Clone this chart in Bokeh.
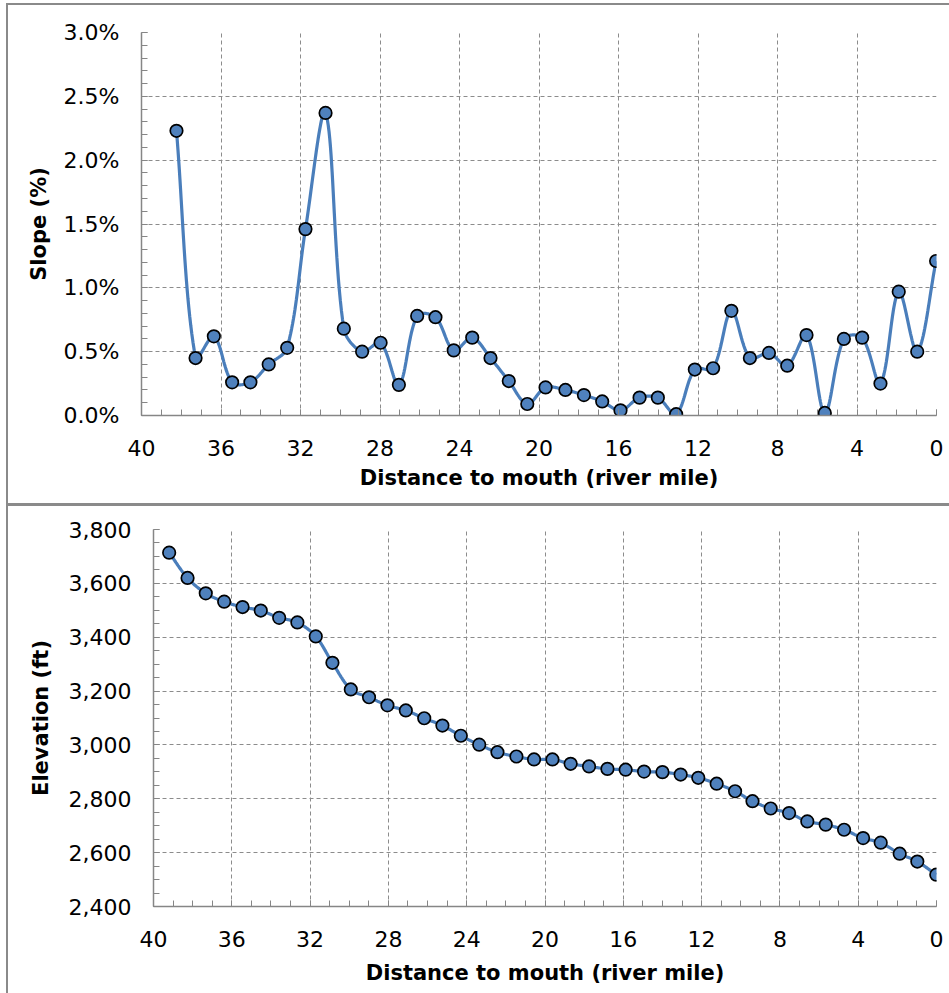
import numpy as np
from bokeh.plotting import figure
from bokeh.models import Range1d, FixedTicker, NumeralTickFormatter
from bokeh.embed import file_html
from bokeh.resources import INLINE

# ---------------- data ----------------
slope_miles = [38.24, 37.28, 36.36, 35.44, 34.52, 33.60, 32.67, 31.75, 30.74, 29.82,
               28.90, 27.97, 27.05, 26.13, 25.21, 24.29, 23.36, 22.44, 21.52, 20.59,
               19.67, 18.67, 17.74, 16.82, 15.90, 14.94, 14.02, 13.10, 12.16, 11.24,
               10.32, 9.39, 8.43, 7.51, 6.54, 5.62, 4.66, 3.74, 2.82, 1.90,
               0.97, 0.02]
slope_pct = [2.23, 0.45, 0.62, 0.26, 0.26, 0.40, 0.53, 1.46, 2.37, 0.68,
             0.50, 0.57, 0.24, 0.78, 0.77, 0.51, 0.61, 0.45, 0.27, 0.09,
             0.22, 0.20, 0.16, 0.11, 0.04, 0.14, 0.14, 0.01, 0.36, 0.37,
             0.82, 0.45, 0.49, 0.39, 0.63, 0.02, 0.60, 0.61, 0.25, 0.97,
             0.50, 1.21]

elev_miles = [39.20, 38.26, 37.33, 36.39, 35.45, 34.52, 33.58, 32.65, 31.71, 30.86,
              29.92, 28.99, 28.05, 27.11, 26.17, 25.24, 24.30, 23.36, 22.43, 21.46,
              20.56, 19.62, 18.69, 17.75, 16.81, 15.88, 14.94, 14.00, 13.07, 12.17,
              11.23, 10.29, 9.40, 8.47, 7.53, 6.60, 5.66, 4.72, 3.75, 2.85,
              1.88, 0.98, 0.01]
elev_ft = [3714, 3620, 3563, 3532, 3512, 3499, 3472, 3455, 3403, 3305,
           3206, 3177, 3147, 3128, 3099, 3072, 3034, 3001, 2973, 2957,
           2946, 2946, 2930, 2920, 2911, 2908, 2901, 2899, 2890, 2878,
           2856, 2828, 2791, 2764, 2747, 2716, 2704, 2685, 2654, 2637,
           2596, 2567, 2518]

x_ticks = [0, 4, 8, 12, 16, 20, 24, 28, 32, 36, 40]
slope_ticks = [0.0, 0.005, 0.010, 0.015, 0.020, 0.025, 0.030]
elev_ticks = [2400, 2600, 2800, 3000, 3200, 3400, 3600, 3800]
x_title = "Distance to mouth (river mile)"

# ---------------- helpers ----------------
LINE = "#4a7ebb"
FILL = "#4f81bd"
AXC = "#868686"
GRIDC = "#8c8c8c"
FONT = "DejaVu Sans"


def smooth(x, y, sx, sy, n=24, tension=1.0 / 3.0):
    """Excel-like smoothed line: Bezier segments whose control arms are
    proportional to the neighbouring segment lengths (in screen space)."""
    X = np.asarray(x, float) * sx
    Y = np.asarray(y, float) * sy
    P = np.column_stack([X, Y])
    m = len(P)
    cin = np.zeros_like(P)
    cout = np.zeros_like(P)
    for i in range(m):
        if i == 0:
            d = P[1] - P[0]
            cout[i] = P[i] + d * tension
            cin[i] = P[i]
        elif i == m - 1:
            d = P[i] - P[i - 1]
            cin[i] = P[i] - d * tension
            cout[i] = P[i]
        else:
            d = P[i + 1] - P[i - 1]
            l1 = np.hypot(*(P[i] - P[i - 1]))
            l2 = np.hypot(*(P[i + 1] - P[i]))
            s = l1 + l2 if (l1 + l2) > 0 else 1.0
            cin[i] = P[i] - d * tension * l1 / s
            cout[i] = P[i] + d * tension * l2 / s
    t = np.linspace(0, 1, n, endpoint=False)[:, None]
    pts = []
    for i in range(m - 1):
        p1, c1, c2, p2 = P[i], cout[i], cin[i + 1], P[i + 1]
        b = ((1 - t) ** 3) * p1 + 3 * ((1 - t) ** 2) * t * c1 + 3 * (1 - t) * t ** 2 * c2 + t ** 3 * p2
        pts.append(b)
    pts.append(P[-1][None, :])
    A = np.vstack(pts)
    return A[:, 0] / sx, A[:, 1] / sy


def style(p, yticks, yminor, ylabel, fmt, ytitle_standoff, xtitle_standoff):
    p.outline_line_color = None
    p.background_fill_color = "white"
    p.border_fill_color = "white"
    p.xaxis.ticker = FixedTicker(ticks=x_ticks, minor_ticks=list(range(0, 41)))
    p.yaxis.ticker = FixedTicker(ticks=yticks, minor_ticks=yminor)
    p.yaxis.formatter = NumeralTickFormatter(format=fmt)
    for ax in (p.xaxis[0], p.yaxis[0]):
        ax.axis_line_color = AXC
        ax.axis_line_width = 1.5
        ax.major_tick_line_color = AXC
        ax.minor_tick_line_color = AXC
        ax.major_tick_in = 6
        ax.major_tick_out = 0
        ax.minor_tick_in = 6
        ax.minor_tick_out = 0
        ax.major_label_text_font = FONT
        ax.major_label_text_font_size = "22px"
        ax.major_label_text_color = "black"
        ax.axis_label_text_font = FONT
        ax.axis_label_text_font_size = "21px"
        ax.axis_label_text_font_style = "bold"
        ax.axis_label_text_color = "black"
    p.xaxis.axis_label = x_title
    p.yaxis.axis_label = ylabel
    p.xaxis.major_label_standoff = 24
    p.xaxis.axis_label_standoff = xtitle_standoff
    p.yaxis.major_label_standoff = 22
    p.yaxis.axis_label_standoff = ytitle_standoff
    for g in (p.xgrid[0], p.ygrid[0]):
        g.grid_line_color = GRIDC
        g.grid_line_dash = "4 3"
        g.grid_line_width = 1


# ---------------- top: slope ----------------
FW1, FH1 = 795, 383
slope_frac = [v / 100.0 for v in slope_pct]
p1 = figure(frame_width=FW1, frame_height=FH1, output_backend="svg", toolbar_location=None,
            x_range=Range1d(40, 0), y_range=Range1d(0, 0.03),
            min_border_left=133, min_border_right=13, min_border_top=27, min_border_bottom=88)
style(p1, slope_ticks, [i / 1000.0 for i in range(0, 31)], "Slope (%)", "0.0%", 10, 7)
sx, sy = smooth(slope_miles, slope_frac, FW1 / 40.0, FH1 / 0.03)
p1.line(sx, sy, line_color=LINE, line_width=3.2)
p1.scatter(slope_miles, slope_frac, size=12.5, fill_color=FILL, line_color="black", line_width=1.7)

# ---------------- bottom: elevation ----------------
FW2, FH2 = 783, 377
p2 = figure(frame_width=FW2, frame_height=FH2, output_backend="svg", toolbar_location=None,
            x_range=Range1d(40, 0), y_range=Range1d(2400, 3800),
            min_border_left=145, min_border_right=13, min_border_top=23, min_border_bottom=87)
style(p2, elev_ticks, list(range(2400, 3801, 50)), "Elevation (ft)", "0,0", 13, 11)
ex, ey = smooth(elev_miles, elev_ft, FW2 / 40.0, FH2 / 1400.0)
p2.line(ex, ey, line_color=LINE, line_width=3.2)
p2.scatter(elev_miles, elev_ft, size=12.5, fill_color=FILL, line_color="black", line_width=1.7)

p1.styles = {"border-top": "2px solid #8a8a8a", "border-left": "2px solid #8a8a8a",
             "margin-left": "6px", "margin-top": "3px"}
p2.styles = {"border-top": "3px solid #8a8a8a", "border-left": "2px solid #8a8a8a",
             "margin-left": "6px"}

open("out.html", "w").write(file_html([p1, p2], INLINE))
